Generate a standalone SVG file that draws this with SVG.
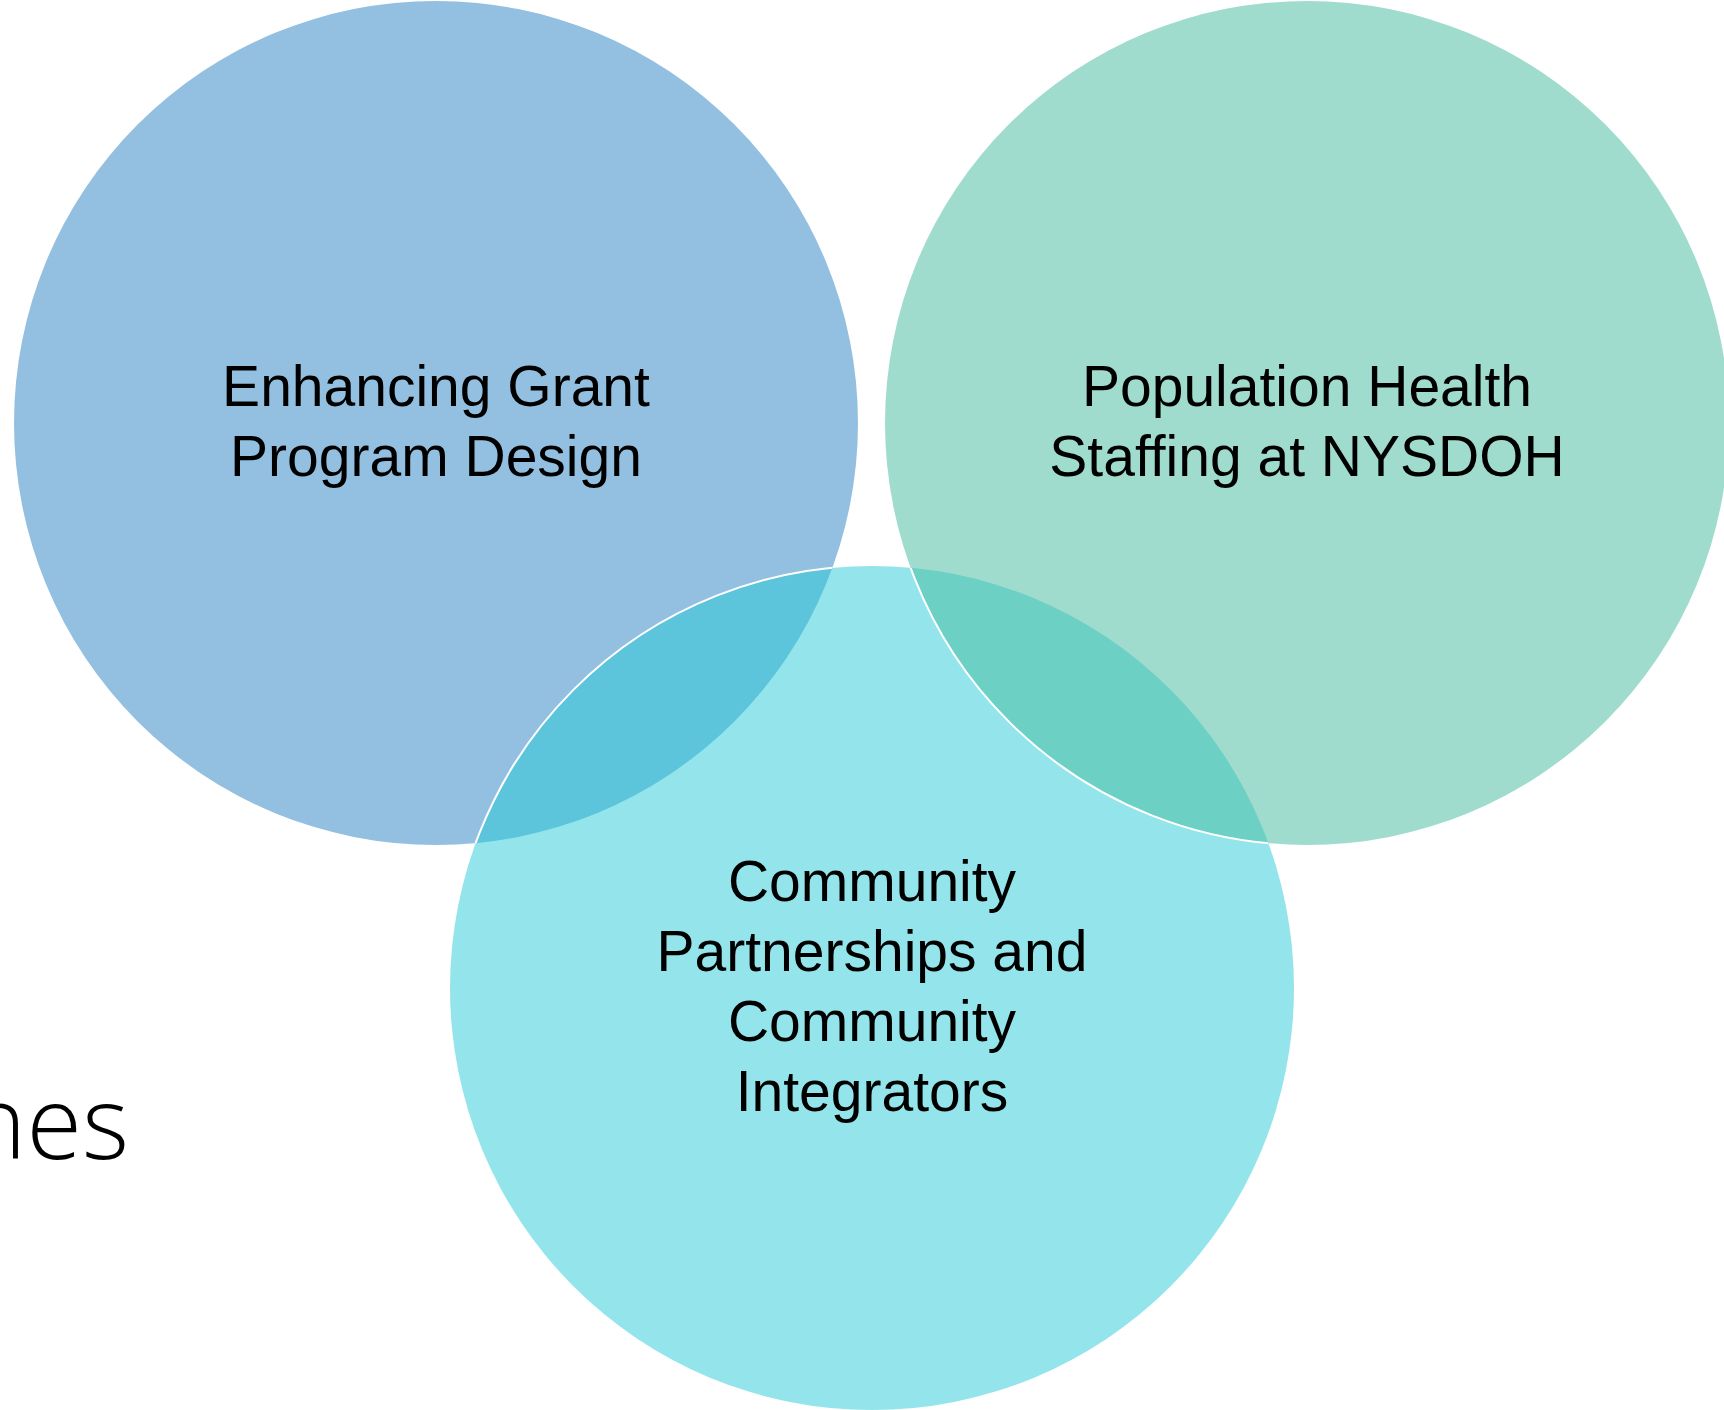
<svg xmlns="http://www.w3.org/2000/svg" width="1724" height="1410" viewBox="0 0 1724 1410">
  <style>
    .lbl { font-family: "Liberation Sans", Arial, sans-serif; font-size: 57px; fill: #000000; text-anchor: middle; }
    .big { font-family: "Open Sans", "Liberation Sans", sans-serif; font-weight: 300; font-size: 101px; fill: #000000; text-anchor: end; }
    .edge { fill: none; stroke: #ffffff; stroke-width: 2; }
  </style>
  <defs>
    <clipPath id="clipBlue"><circle cx="436" cy="423" r="422"/></clipPath>
    <clipPath id="clipCyan"><circle cx="872" cy="988" r="422"/></clipPath>
    <clipPath id="clipGreen"><circle cx="1307" cy="423" r="422"/></clipPath>
  </defs>
  <rect x="0" y="0" width="1724" height="1410" fill="#ffffff"/>

  <text class="big" x="129" y="1159">nes</text>

  <g id="node-blue">
    <circle cx="436" cy="423" r="422" fill="#93C0E0"/>
    <text class="lbl" x="436" y="406">Enhancing Grant</text>
    <text class="lbl" x="436" y="476">Program Design</text>
  </g>

  <g id="node-cyan">
    <circle cx="872" cy="988" r="422" fill="#94E5EB"/>
    <text class="lbl" x="872" y="901">Community</text>
    <text class="lbl" x="872" y="971">Partnerships and</text>
    <text class="lbl" x="872" y="1041">Community</text>
    <text class="lbl" x="872" y="1111">Integrators</text>
  </g>

  <g id="overlap-blue-cyan">
    <circle cx="872" cy="988" r="422" fill="#5CC5DB" clip-path="url(#clipBlue)"/>
    <circle class="edge" cx="872" cy="988" r="422" clip-path="url(#clipBlue)"/>
  </g>

  <g id="node-green">
    <circle cx="1307" cy="423" r="422" fill="#A0DCCD"/>
    <text class="lbl" x="1307" y="406">Population Health</text>
    <text class="lbl" x="1307" y="476">Staffing at NYSDOH</text>
  </g>

  <g id="overlap-green-cyan">
    <circle cx="872" cy="988" r="422" fill="#6DD0C4" clip-path="url(#clipGreen)"/>
    <circle class="edge" cx="1307" cy="423" r="422" clip-path="url(#clipCyan)"/>
  </g>
</svg>
